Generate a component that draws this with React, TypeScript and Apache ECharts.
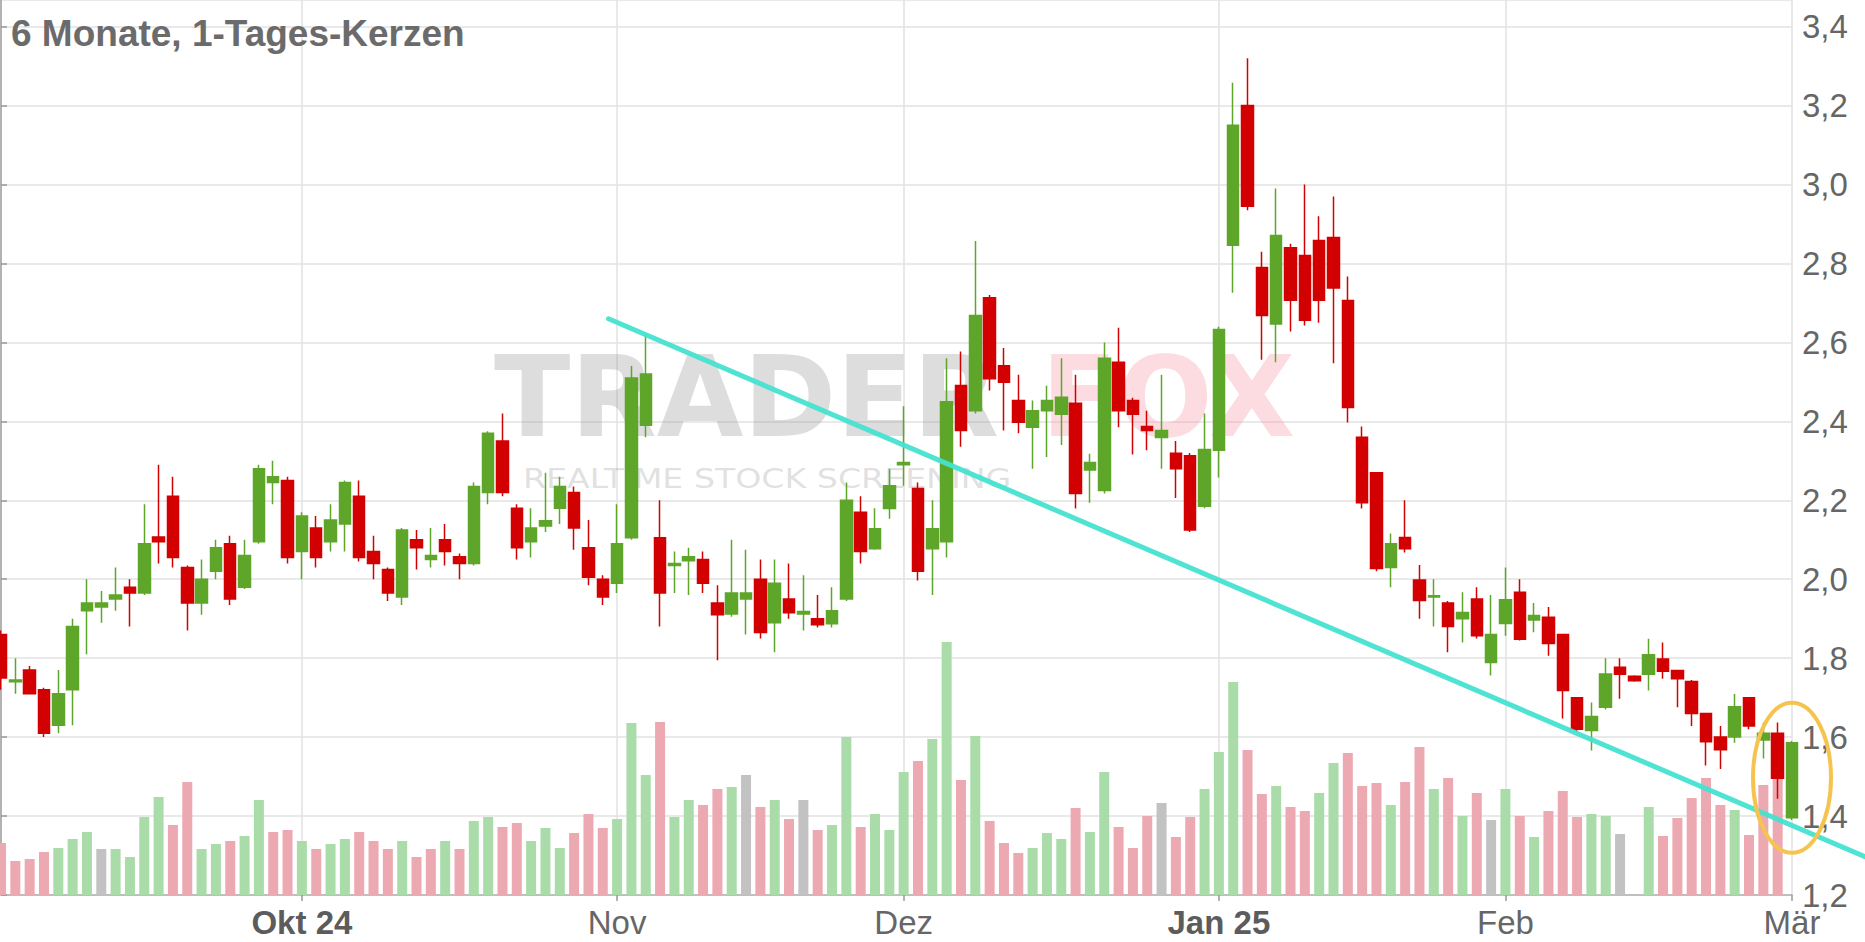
import React, { useEffect, useRef } from "react";
import * as echarts from "echarts";

// Months shown on the time axis and number of daily candles in each
const monthNames = ["Sep 24", "Okt 24", "Nov", "Dez", "Jan 25", "Feb", "Mär"];
const tradingDays = [21, 22, 20, 22, 20, 20, 1];

// Daily candles: [open, high, low, close]
const candles: number[][] = [
  [1.86, 1.87, 1.72, 1.75], [1.74, 1.80, 1.71, 1.745], [1.77, 1.78, 1.71, 1.71], [1.72, 1.725, 1.60, 1.61],
  [1.63, 1.77, 1.61, 1.71], [1.72, 1.90, 1.63, 1.88], [1.92, 2.00, 1.81, 1.94], [1.93, 1.97, 1.89, 1.94],
  [1.95, 2.03, 1.92, 1.96], [1.98, 2.00, 1.88, 1.965], [1.965, 2.19, 1.96, 2.09], [2.107, 2.29, 2.04, 2.095],
  [2.21, 2.26, 2.03, 2.055], [2.03, 2.035, 1.87, 1.94], [1.94, 2.05, 1.91, 2.00], [2.02, 2.10, 2.00, 2.08],
  [2.09, 2.11, 1.935, 1.95], [1.98, 2.10, 1.975, 2.06], [2.095, 2.29, 2.09, 2.28], [2.245, 2.30, 2.19, 2.26],
  [2.25, 2.26, 2.04, 2.055], [2.07, 2.17, 2.00, 2.16], [2.13, 2.16, 2.03, 2.055], [2.095, 2.19, 2.07, 2.15],
  [2.14, 2.25, 2.07, 2.245], [2.21, 2.25, 2.045, 2.055], [2.07, 2.11, 2.00, 2.04], [2.025, 2.03, 1.945, 1.965],
  [1.955, 2.13, 1.935, 2.125], [2.10, 2.125, 2.025, 2.08], [2.05, 2.13, 2.03, 2.06], [2.10, 2.14, 2.035, 2.07],
  [2.057, 2.065, 2.00, 2.04], [2.04, 2.245, 2.035, 2.235], [2.22, 2.375, 2.19, 2.37], [2.35, 2.42, 2.21, 2.22],
  [2.18, 2.19, 2.05, 2.08], [2.095, 2.18, 2.055, 2.13], [2.135, 2.27, 2.12, 2.148], [2.18, 2.26, 2.14, 2.235],
  [2.22, 2.235, 2.075, 2.13], [2.08, 2.15, 1.985, 2.005], [2.00, 2.01, 1.935, 1.955], [1.99, 2.19, 1.965, 2.09],
  [2.105, 2.54, 2.10, 2.51], [2.39, 2.62, 2.36, 2.52], [2.105, 2.20, 1.88, 1.965], [2.035, 2.07, 1.965, 2.04],
  [2.047, 2.08, 1.96, 2.057], [2.05, 2.07, 1.965, 1.99], [1.94, 1.985, 1.795, 1.91], [1.912, 2.10, 1.905, 1.965],
  [1.95, 2.075, 1.86, 1.965], [2.00, 2.05, 1.85, 1.865], [1.89, 2.05, 1.815, 1.99], [1.95, 2.04, 1.90, 1.915],
  [1.912, 2.01, 1.87, 1.918], [1.90, 1.96, 1.878, 1.885], [1.887, 1.98, 1.878, 1.92], [1.95, 2.245, 1.945, 2.20],
  [2.17, 2.21, 2.04, 2.07], [2.077, 2.18, 2.075, 2.128], [2.179, 2.28, 2.153, 2.237], [2.29, 2.438, 2.237, 2.296],
  [2.23, 2.245, 1.997, 2.02], [2.077, 2.20, 1.96, 2.128], [2.095, 2.56, 2.055, 2.45], [2.491, 2.577, 2.336, 2.377],
  [2.427, 2.857, 2.42, 2.668], [2.713, 2.72, 2.478, 2.508], [2.541, 2.586, 2.377, 2.499], [2.453, 2.518, 2.37, 2.398],
  [2.385, 2.453, 2.28, 2.427], [2.427, 2.49, 2.31, 2.453], [2.418, 2.56, 2.34, 2.461], [2.446, 2.518, 2.179, 2.217],
  [2.277, 2.318, 2.194, 2.296], [2.225, 2.60, 2.217, 2.56], [2.55, 2.637, 2.385, 2.427], [2.453, 2.46, 2.316, 2.418],
  [2.387, 2.427, 2.327, 2.377], [2.359, 2.518, 2.28, 2.377], [2.319, 2.35, 2.206, 2.28], [2.313, 2.32, 2.12, 2.125],
  [2.185, 2.42, 2.18, 2.329], [2.327, 2.64, 2.258, 2.633], [2.846, 3.258, 2.726, 3.15], [3.20, 3.32, 2.935, 2.945],
  [2.79, 2.83, 2.556, 2.668], [2.647, 2.99, 2.55, 2.871], [2.84, 2.85, 2.628, 2.707], [2.82, 3.00, 2.643, 2.656],
  [2.858, 2.92, 2.65, 2.707], [2.866, 2.97, 2.547, 2.738], [2.706, 2.767, 2.397, 2.435], [2.36, 2.387, 2.179, 2.194],
  [2.27, 2.27, 2.02, 2.027], [2.03, 2.116, 1.98, 2.09], [2.106, 2.20, 2.068, 2.077], [1.998, 2.036, 1.90, 1.946],
  [1.955, 2.00, 1.88, 1.958], [1.94, 1.945, 1.815, 1.88], [1.90, 1.967, 1.84, 1.916], [1.95, 1.98, 1.85, 1.857],
  [1.789, 1.96, 1.756, 1.86], [1.888, 2.03, 1.857, 1.948], [1.967, 2.00, 1.845, 1.848], [1.897, 1.94, 1.866, 1.908],
  [1.904, 1.93, 1.806, 1.837], [1.86, 1.86, 1.647, 1.718], [1.70, 1.70, 1.615, 1.62], [1.617, 1.688, 1.566, 1.652],
  [1.676, 1.80, 1.67, 1.76], [1.777, 1.80, 1.697, 1.759], [1.754, 1.757, 1.74, 1.743], [1.759, 1.849, 1.718, 1.809],
  [1.798, 1.84, 1.748, 1.767], [1.769, 1.77, 1.676, 1.748], [1.741, 1.745, 1.628, 1.66], [1.66, 1.66, 1.528, 1.588],
  [1.60, 1.628, 1.519, 1.568], [1.60, 1.709, 1.586, 1.677], [1.70, 1.70, 1.62, 1.628], [1.593, 1.637, 1.546, 1.61],
  [1.61, 1.637, 1.444, 1.496], [1.396, 1.59, 1.39, 1.586],
];

// Daily volume (thousand shares)
const volumeK = [
  52, 34, 36, 43, 47, 56, 63, 46, 46, 38, 78, 98, 70, 113, 46, 51, 54, 59, 95, 63,
  65, 54, 46, 51, 56, 63, 54, 46, 54, 38, 46, 54, 46, 74, 78, 68, 72, 54, 67, 47,
  62, 81, 67, 76, 172, 120, 173, 78, 95, 90, 106, 108, 120, 88, 95, 76, 95, 65, 70, 158,
  68, 81, 65, 123, 134, 156, 253, 115, 159, 74, 52, 42, 47, 62, 56, 87, 63, 123, 68, 47,
  79, 92, 58, 78, 106, 143, 213, 145, 101, 109, 88, 84, 102, 132, 142, 109, 112, 90, 113, 148,
  106, 117, 79, 102, 75, 106, 79, 58, 84, 104, 78, 81, 79, 61, 0, 88, 59, 77, 97, 117,
  90, 85, 60, 110, 116, 0,
];
// Close versus previous close (volume bar colour): u = up, d = down, n = unchanged
const volumeTrend = [
  "ddddu", "uunuu", "uuddu", "uduud", "duduu", "dddud", "duduu", "dduuu", "ddduu", "uduud",
  "dundu", "dnduu", "duuud", "uudud", "dduuu", "duudd", "dnddu", "uuddu", "dduud", "ddudd",
  "ududn", "ududd", "duund", "udddd", "duddd", "u",
].join("");

// Hand-drawn trend line: [candle index, price]
const trendLine = [
  [42.4, 2.66],
  [130.1, 1.297],
];
// Circled last candle: [candle index, price]
const highlight = [125, 1.497];

const GREEN = "#5ea62a";
const RED = "#d20000";
const VOL_COLORS: Record<string, string> = { u: "#a9dca9", d: "#eda9b1", n: "#c2c2c2" };
const FONT = '"Liberation Sans", Arial, sans-serif';

export default function App() {
  const ref = useRef<HTMLDivElement>(null);

  useEffect(() => {
    if (!ref.current) return;
    const chart = echarts.init(ref.current, undefined, { renderer: "svg" });

    const categories: string[] = [];
    monthNames.forEach((m, k) => {
      for (let d = 1; d <= tradingDays[k]; d++) categories.push(`${m}|${d}`);
    });
    const isMonthStart = (i: number) => i > 0 && !!categories[i] && categories[i].endsWith("|1");

    const candleData = candles.map(([o, h, l, c]) => [o, c, l, h]);
    const volData = volumeK.map((v, i) => ({
      value: v,
      itemStyle: { color: VOL_COLORS[volumeTrend[i]] || VOL_COLORS.n },
    }));

    const gridBottom = 47;
    const gridHeight = 942 - gridBottom;
    const priceMin = 1.2;
    const priceMax = 3.4676;

    const option: any = {
      animation: false,
      backgroundColor: "#ffffff",
      textStyle: { fontFamily: FONT },
      grid: { left: 1, right: 73, top: 0, bottom: gridBottom, containLabel: false },
      xAxis: [
        {
          type: "category",
          data: categories,
          boundaryGap: false,
          axisLine: { show: true, onZero: false, lineStyle: { color: "#b0b0b0", width: 1.5 } },
          axisTick: {
            show: true,
            interval: (i: number) => isMonthStart(i),
            length: 6,
            lineStyle: { color: "#999", width: 1.5 },
          },
          axisLabel: {
            interval: (i: number) => isMonthStart(i),
            margin: 12,
            formatter: (v: string) => {
              const name = v.split("|")[0];
              return /\d/.test(name) ? `{b|${name}}` : `{n|${name}}`;
            },
            rich: {
              b: { fontSize: 33, lineHeight: 30, fontWeight: "bold", color: "#5c5c5c", fontFamily: FONT },
              n: { fontSize: 33, lineHeight: 30, color: "#666666", fontFamily: FONT },
            },
          },
          splitLine: {
            show: true,
            interval: (i: number) => isMonthStart(i),
            lineStyle: { color: "#e2e2e2", width: 1.5 },
          },
        },
        { type: "value", min: 0, max: candles.length - 1, show: false },
      ],
      yAxis: [
        {
          type: "value",
          position: "right",
          min: priceMin,
          max: priceMax,
          interval: 0.2,
          axisLine: { show: true, lineStyle: { color: "#999", width: 1.5 } },
          axisTick: { show: true, length: 6, lineStyle: { color: "#999", width: 1.5 } },
          axisLabel: {
            margin: 10,
            color: "#666666",
            fontSize: 33,
            lineHeight: 24,
            fontFamily: FONT,
            showMaxLabel: false,
            formatter: (v: number) => {
              const k = Math.round(v * 5);
              if (Math.abs(v * 5 - k) > 1e-6) return "";
              return v.toFixed(1).replace(".", ",");
            },
          },
          splitLine: { show: true, lineStyle: { color: "#e2e2e2", width: 1.5 } },
        },
        { type: "value", min: 0, max: gridHeight, show: false },
      ],
      series: [
        {
          type: "bar",
          xAxisIndex: 0,
          yAxisIndex: 1,
          data: volData,
          barWidth: 10,
          z: 1,
        },
        {
          type: "candlestick",
          xAxisIndex: 0,
          yAxisIndex: 0,
          data: candleData,
          barWidth: 12,
          itemStyle: {
            color: GREEN,
            color0: RED,
            borderColor: GREEN,
            borderColor0: RED,
            borderWidth: 1.5,
          },
          z: 3,
        },
      ],
    };

    chart.setOption(option);

    const toPx = (p: number[]) =>
      chart.convertToPixel({ xAxisIndex: 1, yAxisIndex: 0 }, p) as number[];
    const [cx, cy] = toPx(highlight);
    const [tx1, ty1] = toPx(trendLine[0]);
    const [tx2, ty2] = toPx(trendLine[1]);

    chart.setOption({
      graphic: [
        {
          type: "text",
          x: 494,
          y: 397,
          z: 0,
          silent: true,
          style: {
            text: "TRADER",
            fontSize: 112,
            lineHeight: 88,
            fontWeight: "bold",
            fontFamily: '"DejaVu Sans", sans-serif',
            fill: "rgba(150,150,150,0.32)",
            verticalAlign: "middle",
          },
        },
        {
          type: "text",
          x: 1041,
          y: 397,
          z: 0,
          silent: true,
          style: {
            text: "FOX",
            fontSize: 112,
            lineHeight: 88,
            fontWeight: "bold",
            fontFamily: '"DejaVu Sans", sans-serif',
            fill: "rgba(245,150,160,0.33)",
            verticalAlign: "middle",
          },
        },
        {
          type: "text",
          x: 523,
          y: 479,
          z: 0,
          scaleX: 1.23,
          silent: true,
          style: {
            text: "REALTIME STOCK SCREENING",
            fontSize: 27,
            lineHeight: 26,
            fontFamily: '"DejaVu Sans", sans-serif',
            fill: "rgba(150,150,150,0.3)",
            verticalAlign: "middle",
          },
        },
        {
          type: "text",
          x: 11,
          y: 33,
          z: 10,
          style: {
            text: "6 Monate, 1-Tages-Kerzen",
            fontSize: 37,
            fontWeight: "bold",
            fontFamily: FONT,
            fill: "#6b6b6b",
            verticalAlign: "middle",
          },
        },
        {
          type: "line",
          z: 8,
          silent: true,
          shape: { x1: tx1, y1: ty1, x2: tx2, y2: ty2 },
          style: { stroke: "#45e2d0", lineWidth: 5, lineCap: "round", opacity: 0.95 },
        },
        {
          type: "ellipse",
          z: 10,
          silent: true,
          shape: { cx, cy, rx: 39, ry: 75 },
          style: { fill: "none", stroke: "#f6c44e", lineWidth: 4 },
        },
      ],
    });

    return () => chart.dispose();
  }, []);

  return (
    <div
      ref={ref}
      style={{ position: "fixed", left: 0, top: 0, width: "1865px", height: "942px", background: "#fff" }}
    />
  );
}
